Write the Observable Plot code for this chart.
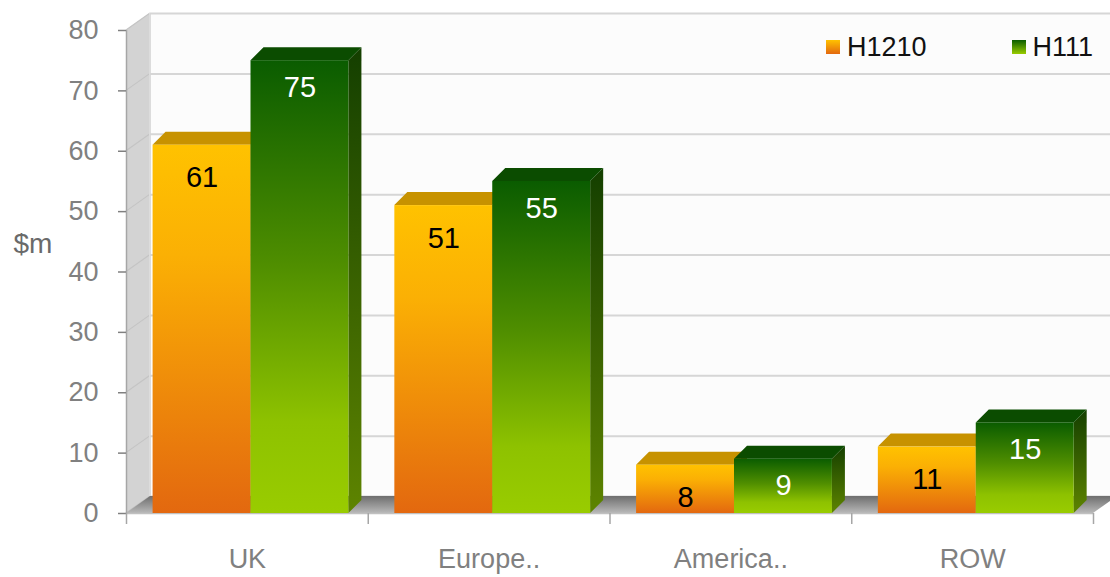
<!DOCTYPE html>
<html><head><meta charset="utf-8">
<script src="https://cdn.jsdelivr.net/npm/d3@7"></script>
<script src="https://cdn.jsdelivr.net/npm/@observablehq/plot@0.6"></script>
<style>
html,body{margin:0;padding:0;background:#fff;}
#chart{position:relative;width:1110px;height:577px;font-family:"Liberation Sans",Arial,sans-serif;}
.legend{position:absolute;top:33px;left:826px;display:flex;align-items:center;font-size:27px;line-height:28px;color:#111;}
.legend .item{display:flex;align-items:center;}
.legend .sw{width:14px;height:14px;margin-right:7px;}
</style></head><body><div id="chart"></div>
<script>
const categories = ["UK", "Europe..", "America..", "ROW"];
const seriesNames = ["H1210", "H111"];
const valuesH1210 = [61, 51, 8, 11];
const valuesH111 = [75, 55, 9, 15];
const yTicks = [0, 10, 20, 30, 40, 50, 60, 70, 80];

const data = [];
categories.forEach((c, i) => {
  data.push({cat: c, idx: i, series: "H1210", value: valuesH1210[i]});
  data.push({cat: c, idx: i, series: "H111", value: valuesH111[i]});
});

const slot = {H1210: [0.11, 0.515], H111: [0.515, 0.92]};
const depth = {dx: 13, dy: -13};
const wall = {dx: 24, dy: -17};
const look = {
  H1210: {front: [[0, "#FFC200"], [0.3, "#FBB004"], [1, "#E3680F"]], top: "#C79200", side: ["#A86E00", "#B0520A"], label: "#000"},
  H111: {front: [[0, "#0A5C00"], [0.45, "#4F8E00"], [0.8, "#8EC200"], [1, "#99CC00"]], top: "#0B4C00", side: ["#143F00", "#5E8400"], label: "#fff"}
};

function walls(index, scales, values, dims) {
  const {x, y} = scales;
  const g = d3.create("svg:g");
  const x0 = x(0), y0 = y(0), yT = y(80);
  g.append("rect").attr("x", x0 + wall.dx).attr("y", yT + wall.dy)
    .attr("width", dims.width - x0 - wall.dx).attr("height", y0 - yT).attr("fill", "#fcfcfc");
  g.append("polygon").attr("points", [[x0, y0], [x0, yT], [x0 + wall.dx, yT + wall.dy], [x0 + wall.dx, y0 + wall.dy]].join(" "))
    .attr("fill", "#d3d3d3");
  for (const t of yTicks) {
    g.append("line").attr("x1", x0).attr("y1", y(t)).attr("x2", x0 + wall.dx).attr("y2", y(t) + wall.dy)
      .attr("stroke", "#c4c4c4").attr("stroke-width", 1.2);
  }
  g.append("line").attr("x1", x0 + wall.dx).attr("x2", x0 + wall.dx).attr("y1", yT + wall.dy).attr("y2", y0 + wall.dy)
    .attr("stroke", "#dcdcdc").attr("stroke-width", 2);
  return g.node();
}

function floor(index, scales) {
  const {x, y} = scales;
  const g = d3.create("svg:g");
  const x0 = x(0), x1 = x(4), y0 = y(0);
  const defs = g.append("defs");
  const lg = defs.append("linearGradient").attr("id", "floorGrad").attr("x1", 0).attr("y1", 0).attr("x2", 0).attr("y2", 1);
  lg.append("stop").attr("offset", 0).attr("stop-color", "#6e6e6e");
  lg.append("stop").attr("offset", 1).attr("stop-color", "#b8b8b8");
  g.append("polygon").attr("points", [[x0, y0], [x0 + wall.dx, y0 + wall.dy], [x1 + wall.dx, y0 + wall.dy], [x1, y0]].join(" "))
    .attr("fill", "url(#floorGrad)");
  return g.node();
}

function bars3d(index, scales, values) {
  const {x1: X1, x2: X2, y1: Y1, y2: Y2} = values;
  const g = d3.create("svg:g");
  const defs = g.append("defs");
  for (const s of seriesNames) {
    const f = defs.append("linearGradient").attr("id", "front-" + s).attr("x1", 0).attr("y1", 0).attr("x2", 0).attr("y2", 1);
    for (const [o, c] of look[s].front) f.append("stop").attr("offset", o).attr("stop-color", c);
    const sd = defs.append("linearGradient").attr("id", "side-" + s).attr("x1", 0).attr("y1", 0).attr("x2", 0).attr("y2", 1);
    sd.append("stop").attr("offset", 0).attr("stop-color", look[s].side[0]);
    sd.append("stop").attr("offset", 1).attr("stop-color", look[s].side[1]);
  }
  for (const i of index) {
    const s = data[i].series;
    const l = X1[i], r = X2[i], top = Y2[i], bot = Y1[i];
    g.append("polygon").attr("points", [[r, bot], [r, top], [r + depth.dx, top + depth.dy], [r + depth.dx, bot + depth.dy]].join(" "))
      .attr("fill", `url(#side-${s})`);
    g.append("polygon").attr("points", [[l, top], [l + depth.dx, top + depth.dy], [r + depth.dx, top + depth.dy], [r, top]].join(" "))
      .attr("fill", look[s].top);
    g.append("rect").attr("x", l).attr("y", top).attr("width", r - l).attr("height", bot - top)
      .attr("fill", `url(#front-${s})`);
  }
  return g.node();
}

const mid = d => d.idx + (slot[d.series][0] + slot[d.series][1]) / 2;

const plot = Plot.plot({
  width: 1110, height: 577,
  marginLeft: 126, marginRight: 17, marginTop: 30, marginBottom: 64,
  x: {domain: [0, 4], axis: null},
  y: {domain: [0, 80], axis: null},
  style: {fontFamily: "'Liberation Sans', Arial, sans-serif", background: "transparent", overflow: "visible"},
  marks: [
    walls,
    Plot.ruleY(yTicks, {x1: 0, x2: 4, dx: wall.dx, dy: wall.dy, stroke: "#d6d6d6", strokeWidth: 2}),
    floor,
    Plot.ruleY([0], {x1: 0, x2: 4, stroke: "#c0c0c0", strokeWidth: 1.5}),
    Plot.ruleX([0], {y1: 0, y2: 80, stroke: "#a6a6a6", strokeWidth: 1.5}),
    Plot.axisY({ticks: yTicks, tickSize: 8, tickPadding: 20, fontSize: 27, color: "#808080", label: null, strokeWidth: 1.5}),
    Plot.axisX({ticks: [0, 1, 2, 3, 4], tickSize: 11, tickFormat: () => "", color: "#a6a6a6", label: null, strokeWidth: 1.5}),
    Plot.axisX({ticks: categories.map((c, i) => i + 0.5), tickSize: 0, tickPadding: 35, fontSize: 27, color: "#808080",
      tickFormat: v => categories[Math.floor(v)], label: null}),
    Plot.text(["$m"], {frameAnchor: "left", dx: -113, dy: -28, textAnchor: "start", fontSize: 28, fill: "#6a6a6a"}),
    Plot.rect(data, {x1: d => d.idx + slot[d.series][0], x2: d => d.idx + slot[d.series][1], y1: 0, y2: "value", render: bars3d}),
    Plot.text(data.filter(d => d.series === "H1210"), {x: mid, y: "value", text: d => String(d.value), dy: 33, fontSize: 29, fill: look.H1210.label}),
    Plot.text(data.filter(d => d.series === "H111"), {x: mid, y: "value", text: d => String(d.value), dy: 27, fontSize: 29, fill: look.H111.label})
  ]
});
const chart = document.getElementById("chart");
chart.appendChild(plot);

const legend = document.createElement("div");
legend.className = "legend";
seriesNames.forEach((s, k) => {
  const item = document.createElement("div");
  item.className = "item";
  if (k > 0) item.style.marginLeft = "85px";
  const sw = document.createElement("div");
  sw.className = "sw";
  sw.style.background = `linear-gradient(${look[s].front[0][1]}, ${look[s].front[look[s].front.length - 1][1]})`;
  const t = document.createElement("span");
  t.textContent = s;
  item.appendChild(sw); item.appendChild(t);
  legend.appendChild(item);
});
chart.appendChild(legend);
</script></body></html>
